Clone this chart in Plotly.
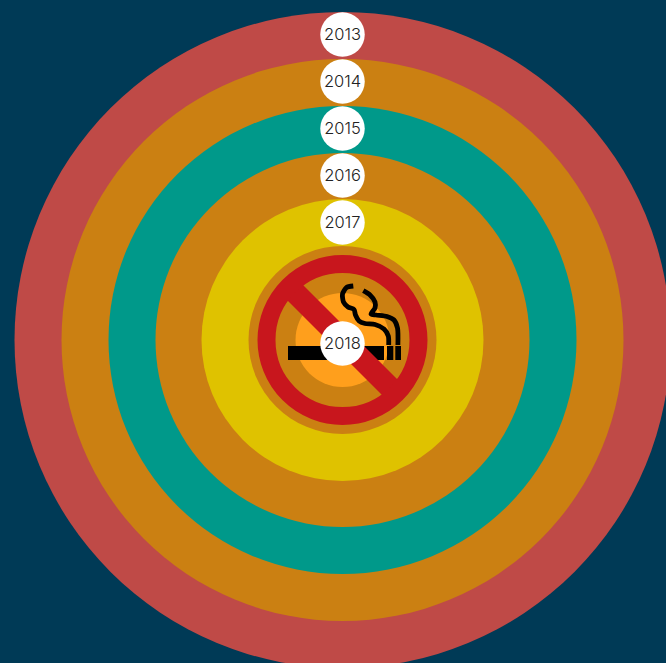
import plotly.graph_objects as go

# Data (pixel-scaled axes: 1 unit = 1 px)
years = ["2013", "2014", "2015", "2016", "2017", "2018"]
ring_radius = [328, 281, 234, 187, 141, 94]
ring_colors = ["#BF4A47", "#CB8012", "#00998A", "#CB8012", "#DFC200", "#CB8012"]
label_y = [34.5, 81.5, 128.5, 175.5, 222.5, 343.5]
core_radius = 47
core_color = "#FF9F1C"
center_x, center_y = 342.5, 340

BG = "#003A56"
RED = "#C8161D"

# Icon outlines, in reference pixels
cig_body_x, cig_body_y = [288, 384], [353, 353]
cig_stub1_x, cig_stub1_y = [387, 393.3], [353, 353]
cig_stub2_x, cig_stub2_y = [395.3, 401], [353, 353]
smoke1_x = [353.3, 346.5, 342.5, 343.5, 348, 354, 355.5, 359, 365, 375, 384, 388.3, 388.7]
smoke1_y = [286, 287.5, 294, 302, 307, 309.5, 315, 321, 323.5, 324.5, 329, 336, 345]
smoke2_x = [363.3, 370, 375, 375, 371, 376, 387, 394, 397.5, 397.9]
smoke2_y = [290.7, 295, 302, 308, 314, 315, 316.5, 320, 328, 345]
slash_x = [292, 393]
slash_y = [289.5, 390.5]

fig = go.Figure()

# concentric year discs
fig.add_trace(go.Scatter(
    x=[center_x] * (len(years) + 1), y=[center_y] * (len(years) + 1), mode="markers",
    marker=dict(size=[2 * r for r in ring_radius] + [2 * core_radius],
                color=ring_colors + [core_color], line=dict(width=0), opacity=1),
    hoverinfo="skip",
))

def seg(x, y, width, color, shape="linear"):
    fig.add_trace(go.Scatter(x=x, y=y, mode="lines",
                             line=dict(color=color, width=width, shape=shape, smoothing=0.7),
                             hoverinfo="skip"))

seg(smoke1_x, smoke1_y, 4.8, "#000000", "spline")
seg(smoke2_x, smoke2_y, 4.8, "#000000", "spline")
seg(cig_body_x, cig_body_y, 14, "#000000")
seg(cig_stub1_x, cig_stub1_y, 14, "#000000")
seg(cig_stub2_x, cig_stub2_y, 14, "#000000")
seg(slash_x, slash_y, 22, RED)

# prohibition ring
fig.add_trace(go.Scatter(
    x=[center_x], y=[center_y], mode="markers",
    marker=dict(size=152, color="rgba(0,0,0,0)", line=dict(color=RED, width=18)),
    hoverinfo="skip",
))

# year labels: white badges, then the text
fig.add_trace(go.Scatter(
    x=[center_x] * len(years), y=label_y, mode="markers",
    marker=dict(size=44.5, color="#FFFFFF", line=dict(width=0)),
    hoverinfo="skip",
))
fig.add_trace(go.Scatter(
    x=[center_x] * len(years), y=[v + 1.5 for v in label_y], mode="text",
    text=years, textposition="middle center",
    textfont=dict(family="Inter, sans-serif", size=16.5, color="#222222", weight=300),
    hoverinfo="skip",
))

fig.update_layout(
    width=666, height=663, margin=dict(l=0, r=0, t=0, b=0),
    paper_bgcolor=BG, plot_bgcolor=BG, showlegend=False,
    xaxis=dict(range=[0, 666], visible=False, fixedrange=True),
    yaxis=dict(range=[663, 0], visible=False, fixedrange=True),
)
fig.write_html("out.html", config={"displayModeBar": False},
               post_script="document.body.style.margin='0';document.body.style.overflow='hidden';")
